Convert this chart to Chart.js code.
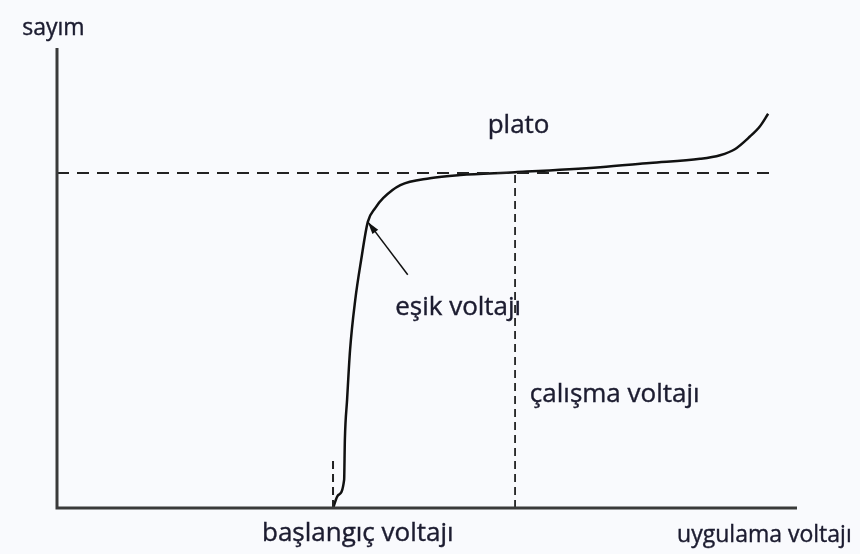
<!doctype html>
<html>

<head>
    <title>Plato eğrisi</title>
    <meta http-equiv="Content-Type" content="text/html;charset=UTF-8">
    <script src="https://cdn.jsdelivr.net/npm/chart.js@4/dist/chart.umd.min.js"></script>
    <style>
        body { margin: 0; background: #f9fafd; }
        #kutu { width: 860px; height: 554px; }
    </style>
</head>

<body>
    <div id="kutu"><canvas id="grafico"></canvas></div>
</body>
<script>

    // sayım eğrisi (uygulama voltajı, sayım) - keyfi birimler 0..100
    var egri_x = [37.3, 38.0, 38.8, 38.9, 39.2, 39.6, 40.3, 41.1, 42.0, 43.0, 44.1, 46.4, 50.4, 54.5, 61.9, 73.4, 80.1, 86.9, 89.6, 91.6, 93.6, 95.0, 96.1];
    var egri_y = [0, 2.8, 6.1, 14.8, 23.5, 34.3, 45.2, 53.9, 62.2, 65.2, 67.4, 70.2, 71.7, 72.4, 73.0, 74.1, 75.0, 75.9, 76.7, 78.0, 80.7, 83.0, 85.7];

    var plato_seviyesi = 72.8;
    var plato_bitis = 97.0;
    var calisma_voltaji = 61.9;
    var baslangic_voltaji = 37.3;
    var baslangic_isaret_ust = 10.4;

    // eşik voltajını gösteren ok: başlangıç -> uç
    var ok_x = [47.4, 42.0];
    var ok_y = [50.7, 62.2];

    var etiketler = ["sayım", "plato", "eşik voltajı", "çalışma voltajı", "başlangıç voltajı", "uygulama voltajı"];
    var etiket_x = [-4.7, 58.2, 45.7, 63.9, 27.7, 83.8];
    var etiket_y = [102.8, 81.5, 42.0, 23.0, -7.2, -7.4];
    var etiket_boyut = [23, 26, 26, 26, 26, 23];

    function noktalar(xs, ys) {
        return xs.map(function (x, i) { return { x: x, y: ys[i] }; });
    }

    var arka_plan = {
        id: 'arka_plan',
        beforeDraw: function (chart) {
            var ctx = chart.ctx;
            ctx.save();
            ctx.fillStyle = '#f9fafd';
            ctx.fillRect(0, 0, chart.width, chart.height);
            ctx.restore();
        }
    };

    var yazilar = {
        id: 'yazilar',
        afterDatasetsDraw: function (chart) {
            var ctx = chart.ctx;
            var sx = chart.scales.x, sy = chart.scales.y;
            ctx.save();

            // ok başı
            var x1 = sx.getPixelForValue(ok_x[0]), y1 = sy.getPixelForValue(ok_y[0]);
            var x2 = sx.getPixelForValue(ok_x[1]), y2 = sy.getPixelForValue(ok_y[1]);
            var aci = Math.atan2(y2 - y1, x2 - x1);
            ctx.fillStyle = '#111';
            ctx.beginPath();
            ctx.moveTo(x2, y2);
            ctx.lineTo(x2 - 13 * Math.cos(aci - 0.28), y2 - 13 * Math.sin(aci - 0.28));
            ctx.lineTo(x2 - 13 * Math.cos(aci + 0.28), y2 - 13 * Math.sin(aci + 0.28));
            ctx.closePath();
            ctx.fill();

            ctx.textAlign = 'left';
            ctx.textBaseline = 'alphabetic';
            ctx.fillStyle = '#1c1c30';
            ctx.strokeStyle = '#1c1c30';
            ctx.lineWidth = 0.4;
            etiketler.forEach(function (t, i) {
                ctx.font = etiket_boyut[i] + 'px "Open Sans"';
                var px = sx.getPixelForValue(etiket_x[i]), py = sy.getPixelForValue(etiket_y[i]);
                ctx.fillText(t, px, py);
                ctx.strokeText(t, px, py);
            });
            ctx.restore();
        }
    };

    var grafico = new Chart(document.getElementById('grafico'), {
        type: 'line',
        data: {
            datasets: [
                {
                    // eksenler
                    data: noktalar([0, 0, 100], [100, 0, 0]),
                    borderColor: '#3a3a3a',
                    borderWidth: 3,
                    tension: 0
                },
                {
                    data: noktalar([0, plato_bitis], [plato_seviyesi, plato_seviyesi]),
                    borderColor: '#222',
                    borderWidth: 2,
                    borderDash: [12, 8],
                    tension: 0
                },
                {
                    data: noktalar([calisma_voltaji, calisma_voltaji], [0, plato_seviyesi]),
                    borderColor: '#222',
                    borderWidth: 1.8,
                    borderDash: [8, 5],
                    tension: 0
                },
                {
                    data: noktalar([baslangic_voltaji, baslangic_voltaji], [0, baslangic_isaret_ust]),
                    borderColor: '#222',
                    borderWidth: 2,
                    borderDash: [8, 5],
                    tension: 0
                },
                {
                    data: noktalar(egri_x, egri_y),
                    borderColor: '#111',
                    borderWidth: 2.5,
                    cubicInterpolationMode: 'monotone'
                },
                {
                    data: noktalar(ok_x, ok_y),
                    borderColor: '#111',
                    borderWidth: 1.5,
                    tension: 0
                }
            ]
        },
        options: {
            responsive: true,
            maintainAspectRatio: false,
            animation: false,
            clip: false,
            layout: { padding: { left: 57, right: 63, top: 48, bottom: 46 } },
            elements: { point: { radius: 0 } },
            plugins: { legend: { display: false }, tooltip: { enabled: false } },
            scales: {
                x: { type: 'linear', min: 0, max: 100, display: false },
                y: { type: 'linear', min: 0, max: 100, display: false }
            }
        },
        plugins: [arka_plan, yazilar]
    });
</script>

</html>
